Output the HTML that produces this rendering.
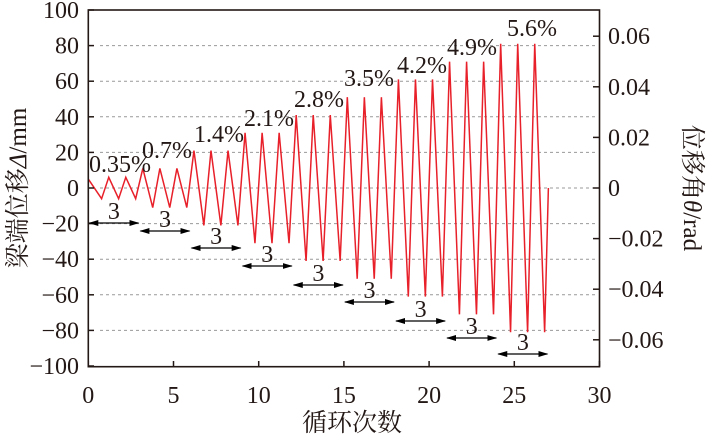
<!DOCTYPE html>
<html><head><meta charset="utf-8"><style>
body{margin:0;background:#fff;}
svg{display:block;font-family:"Liberation Serif","Noto Serif CJK SC",serif;}
</style></head><body>
<svg id="s" width="709" height="437" viewBox="0 0 709 437" xmlns="http://www.w3.org/2000/svg">
<defs><marker id="ah" markerWidth="10" markerHeight="6" refX="9" refY="3" orient="auto-start-reverse" markerUnits="userSpaceOnUse"><path d="M0,0 L10,3 L0,6 Z" fill="#000"/></marker></defs>
<g id="grid" stroke="#999" stroke-width="1" stroke-dasharray="3,3"></g>
<path id="curve" fill="none" stroke="#e8202a" stroke-width="1.5" stroke-linejoin="miter"/>
<rect x="88.3" y="10" width="511.2" height="356.7" fill="none" stroke="#231815" stroke-width="1.6"/>
<g id="ticks" stroke="#231815" stroke-width="1.5"></g>
<g id="labels" font-size="24" fill="#231815"></g>
<g id="arrows" stroke="#000" stroke-width="1.3"></g>
<g font-size="24" fill="#231815">
<text x="89" y="172">0.35%</text>
<text x="142" y="158">0.7%</text>
<text x="194" y="142">1.4%</text>
<text x="244" y="126">2.1%</text>
<text x="294" y="107">2.8%</text>
<text x="344" y="86">3.5%</text>
<text x="397" y="73">4.2%</text>
<text x="447" y="55">4.9%</text>
<text x="507" y="36">5.6%</text>
</g>
<text x="352" y="431" font-size="25" text-anchor="middle" fill="#231815">循环次数</text>
<text transform="translate(26,188) rotate(-90)" font-size="25" text-anchor="middle" fill="#231815">梁端位移<tspan font-style="italic">Δ</tspan>/mm</text>
<text transform="translate(684,188) rotate(90)" font-size="25" text-anchor="middle" fill="#231815">位移角<tspan font-style="italic">θ</tspan>/rad</text>
</svg>
<script>
var X=v=>88.3+17.04*v, Y=v=>188-1.78*v, YR=r=>188-2530*r;
var ns="http://www.w3.org/2000/svg";
function el(p,t,a,txt){var e=document.createElementNS(ns,t);for(var k in a)e.setAttribute(k,a[k]);if(txt!==undefined)e.textContent=txt;document.getElementById(p).appendChild(e);return e;}
for(var v=-80;v<=80;v+=20){el("grid","line",{x1:100,x2:596,y1:Y(v),y2:Y(v)});}
var amps=[5,10,20,30,40,50,60,70,80];
var d="M"+X(0)+","+Y(5);
for(var k=0;k<27;k++){var A=amps[Math.floor(k/3)];
 if(k>0)d+=" L"+X(k+0.2)+","+Y(A+1);
 d+=" L"+X(k+0.78)+","+Y(-A-1);}
d+=" L"+X(27)+","+Y(0);
document.getElementById("curve").setAttribute("d",d);
for(var v=-100;v<=100;v+=20){el("ticks","line",{x1:88.3,x2:94,y1:Y(v),y2:Y(v)});
 el("labels","text",{x:79,y:Y(v)+8,"text-anchor":"end"},v<0?"\u2212"+(-v):""+v);}
for(var i=0;i<=6;i++){var x=88.3+i*85.2;el("ticks","line",{x1:x,x2:x,y1:366.7,y2:361});
 el("labels","text",{x:x,y:403,"text-anchor":"middle"},""+i*5);}
for(var r=-0.06;r<=0.0601;r+=0.02){var rr=Math.round(r*100)/100;el("ticks","line",{x1:593,x2:599.5,y1:YR(rr),y2:YR(rr)});
 el("labels","text",{x:608,y:YR(rr)+8},rr==0?"0":(rr<0?"\u2212":"")+Math.abs(rr).toFixed(2));}
var ay=[223,231,248,266,285,302,321,338,354];
for(var g=0;g<9;g++){var x1=X(3*g)+1,x2=X(3*g+3)-1;
 el("arrows","line",{x1:x1,x2:x2,y1:ay[g],y2:ay[g],"marker-start":"url(#ah)","marker-end":"url(#ah)"});
 el("labels","text",{x:(x1+x2)/2,y:ay[g]-4,"text-anchor":"middle"},"3");}
</script>
</body></html>
